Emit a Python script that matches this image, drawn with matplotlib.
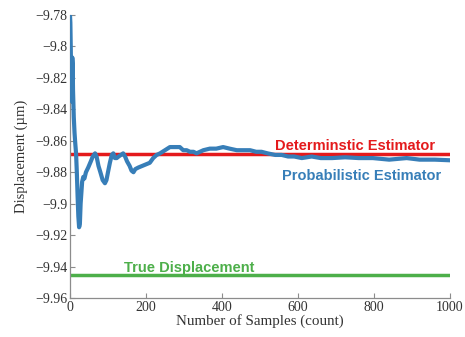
import matplotlib
matplotlib.use("Agg")
import matplotlib.pyplot as plt

# running estimate of the displacement vs. number of samples
samples = [0, 1, 2, 3, 4, 5, 6, 7, 8, 10, 12, 14, 16, 18, 20, 22, 24, 26, 28,
           30, 32, 35, 38, 42, 48, 55, 60, 66, 70, 75, 80, 86, 92, 96, 100,
           105, 110, 114, 118, 123, 128, 134, 140, 145, 150, 157, 162, 167,
           172, 180, 190, 200, 210, 219, 228, 237, 250, 263, 276, 289, 298,
           307, 316, 325, 333, 342, 351, 368, 385, 403, 420, 439, 455, 474,
           490, 504, 520, 540, 557, 574, 590, 610, 636, 660, 690, 724, 760,
           797, 840, 886, 920, 960, 1000]
probabilistic = [-9.780, -9.785, -9.800, -9.818, -9.832, -9.835, -9.807,
                 -9.811, -9.828, -9.845, -9.855, -9.862, -9.868, -9.880,
                 -9.895, -9.908, -9.915, -9.913, -9.900, -9.893, -9.886,
                 -9.883, -9.884, -9.880, -9.877, -9.873, -9.870, -9.868,
                 -9.870, -9.876, -9.880, -9.885, -9.887, -9.885, -9.880,
                 -9.874, -9.869, -9.868, -9.871, -9.871, -9.870, -9.869,
                 -9.868, -9.870, -9.873, -9.876, -9.879, -9.880, -9.878,
                 -9.877, -9.876, -9.875, -9.874, -9.871, -9.869, -9.868,
                 -9.866, -9.864, -9.864, -9.864, -9.866, -9.866, -9.867,
                 -9.867, -9.868, -9.867, -9.866, -9.865, -9.865, -9.864,
                 -9.865, -9.866, -9.866, -9.866, -9.867, -9.867, -9.868,
                 -9.869, -9.869, -9.870, -9.870, -9.871, -9.870, -9.871,
                 -9.871, -9.8705, -9.871, -9.871, -9.872, -9.871, -9.872,
                 -9.872, -9.8724]

deterministic = -9.8685
true_disp = -9.9453

yticks = [-9.78, -9.80, -9.82, -9.84, -9.86, -9.88, -9.90, -9.92, -9.94, -9.96]
ytick_labels = ["\u22129.78", "\u22129.8", "\u22129.82", "\u22129.84", "\u22129.86",
                "\u22129.88", "\u22129.9", "\u22129.92", "\u22129.94", "\u22129.96"]
xticks = [0, 200, 400, 600, 800, 1000]

RED = "#e41a1c"
BLUE = "#377eb8"
GREEN = "#4daf4a"
GRAY = "#8c8c8c"

fig = plt.figure(figsize=(4.65, 3.37), dpi=100)
ax = fig.add_axes([0.1505, 0.1157, 0.8172, 0.8398])

ax.axhline(deterministic, color=RED, lw=2.5, zorder=2)
ax.axhline(true_disp, color=GREEN, lw=2.5, zorder=2)
ax.plot(samples, probabilistic, color=BLUE, lw=3.0, zorder=3,
        solid_joinstyle="round")

ax.set_xlim(0, 1000)
ax.set_ylim(-9.96, -9.78)
ax.set_xticks(xticks)
ax.set_yticks(yticks)
ax.set_yticklabels(ytick_labels)

serif = "Liberation Serif"
for lab in ax.get_xticklabels() + ax.get_yticklabels():
    lab.set_fontfamily(serif)
    lab.set_fontsize(10)
    lab.set_color("#333333")
ax.tick_params(direction="in", length=3.5, width=0.8, color=GRAY, pad=2)

for side in ("top", "right"):
    ax.spines[side].set_visible(False)
for side in ("left", "bottom"):
    ax.spines[side].set_color(GRAY)
    ax.spines[side].set_linewidth(0.9)

ax.set_xlabel("Number of Samples (count)", fontfamily=serif, fontsize=10.8,
              color="#333333", labelpad=0)
ax.set_ylabel("Displacement (\u00b5m)", fontfamily=serif, fontsize=10.5,
              color="#333333", labelpad=5)

sans = "Liberation Sans"
ax.text(750, -9.8633, "Determinstic Estimator", color=RED, fontfamily=sans,
        fontweight="bold", fontsize=10.5, ha="center", va="center")
ax.text(768, -9.8827, "Probabilistic Estimator", color=BLUE, fontfamily=sans,
        fontweight="bold", fontsize=10.5, ha="center", va="center")
ax.text(313, -9.9406, "True Displacement", color=GREEN, fontfamily=sans,
        fontweight="bold", fontsize=10.5, ha="center", va="center")

fig.savefig("out.png", dpi=100)
